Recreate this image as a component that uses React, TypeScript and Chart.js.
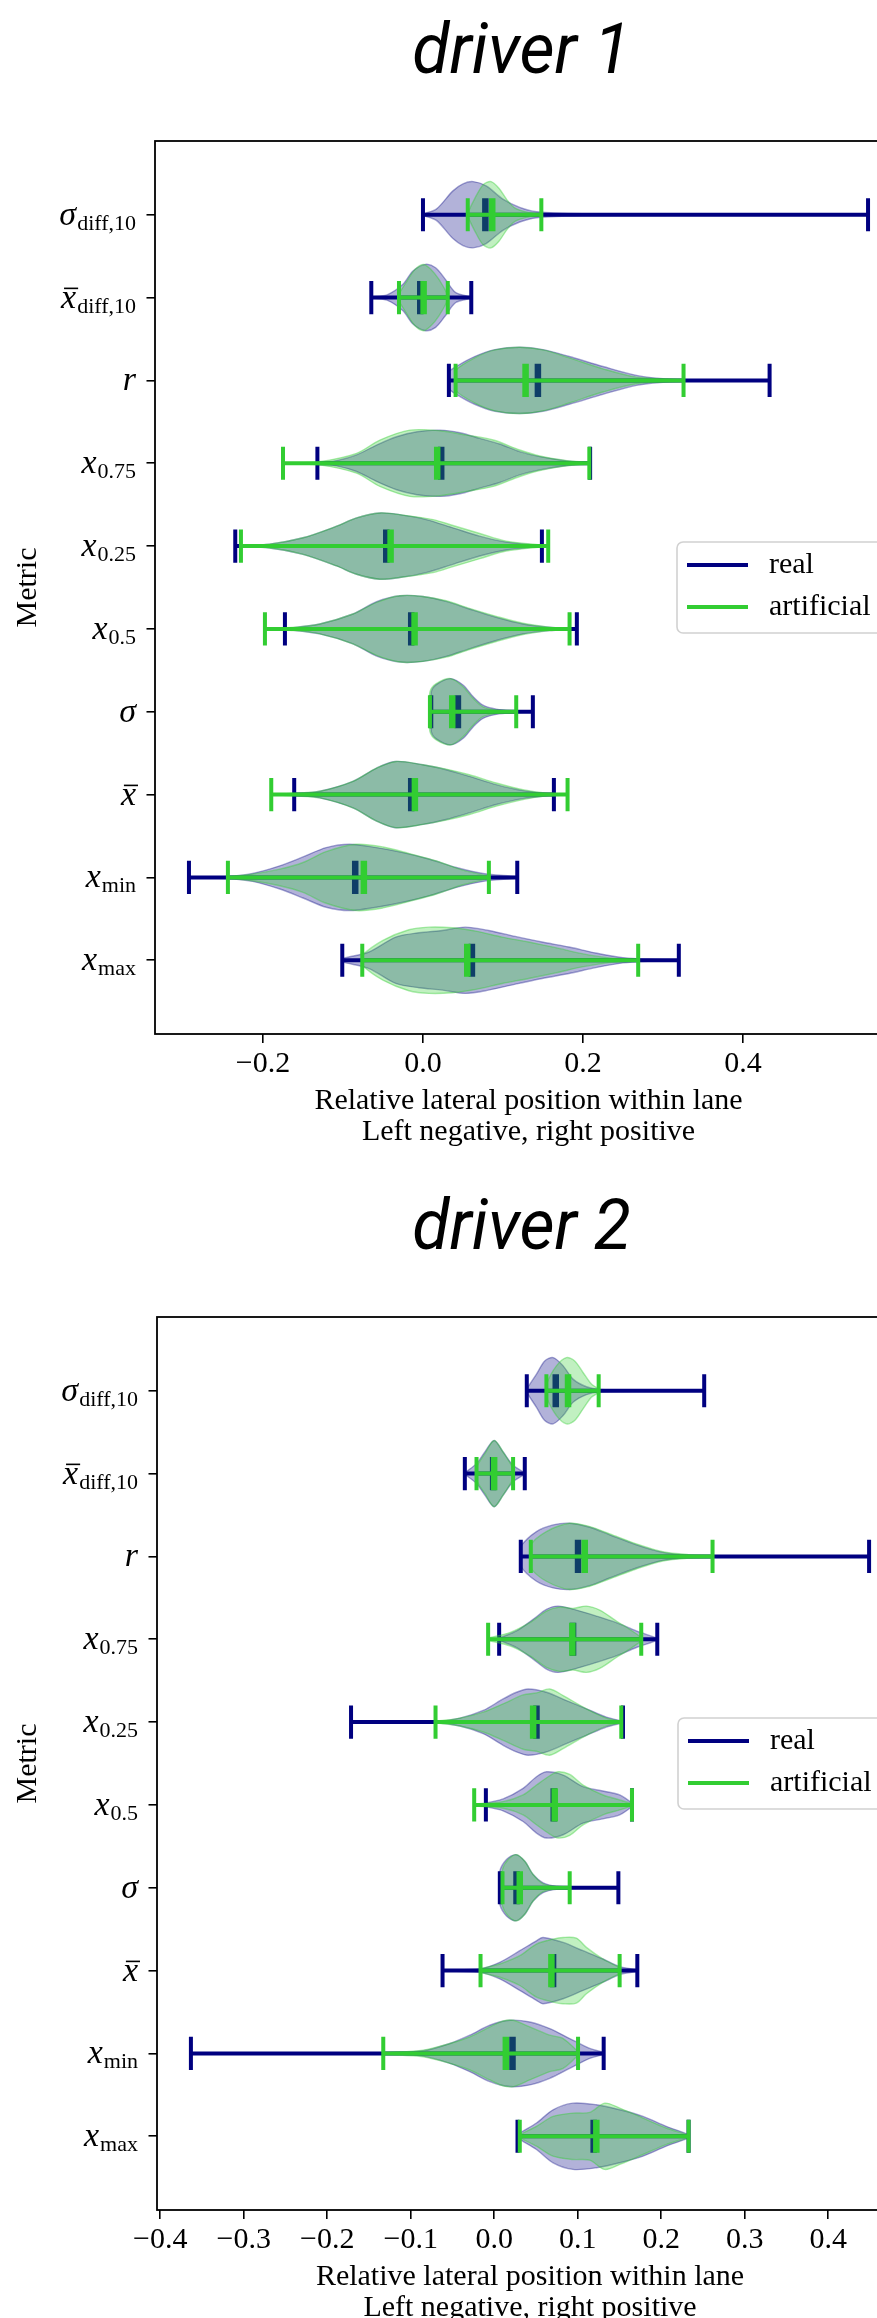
import { useEffect, useRef } from 'react';
import { Chart, registerables } from 'chart.js';

Chart.register(...registerables);

// ---------- shared categories / series ----------
const METRIC_MAIN = ['σ', 'x', 'r', 'x', 'x', 'x', 'σ', 'x', 'x', 'x'];
const METRIC_SUB = ['diff,10', 'diff,10', '', '0.75', '0.25', '0.5', '', '', 'min', 'max'];
const METRIC_BAR = [false, true, false, false, false, false, false, true, false, false];
const SERIES_NAMES = ['real', 'artificial'];
const X_TITLE = ['Relative lateral position within lane', 'Left negative, right positive'];
const Y_TITLE = 'Metric';

// ---------- driver 1 ----------
const D1_TITLE = 'driver 1';
const D1_XTICKS = [-0.2, 0, 0.2, 0.4];
const D1_REAL_MIN = [0.0, -0.0646, 0.0324, -0.132, -0.2347, -0.1726, 0.0104, -0.161, -0.2926, -0.1009];
const D1_REAL_MED = [0.078, -0.0034, 0.1437, 0.0228, -0.0459, -0.0147, 0.0437, -0.0147, -0.0847, 0.0612];
const D1_REAL_MAX = [0.5565, 0.0604, 0.4334, 0.209, 0.1487, 0.1924, 0.1374, 0.1637, 0.1179, 0.3199];
const D1_ART_MIN = [0.056, -0.03, 0.0408, -0.175, -0.2276, -0.1976, 0.0087, -0.1897, -0.2439, -0.0759];
const D1_ART_MED = [0.0866, 0.0008, 0.1283, 0.0178, -0.0405, -0.0105, 0.0366, -0.0101, -0.0739, 0.0554];
const D1_ART_MAX = [0.148, 0.031, 0.3258, 0.208, 0.1566, 0.1833, 0.1166, 0.1808, 0.0824, 0.2691];
// density profiles: [position, relative width]
const D1_REAL_DENS = [
  [[0.0, 0.02], [0.0167, 0.17], [0.0375, 0.72], [0.05, 0.93], [0.0625, 1.0], [0.079, 0.87], [0.1, 0.47], [0.121, 0.22], [0.142, 0.09], [0.2, 0.03], [0.35, 0.015], [0.5565, 0.01]],
  [[-0.0646, 0.02], [-0.045, 0.08], [-0.025, 0.4], [-0.0125, 0.8], [0.003, 1.0], [0.0158, 0.9], [0.028, 0.55], [0.041, 0.15], [0.0604, 0.02]],
  [[0.0324, 0.25], [0.0437, 0.45], [0.0646, 0.72], [0.09, 0.93], [0.1213, 1.0], [0.15, 0.93], [0.183, 0.72], [0.225, 0.42], [0.267, 0.15], [0.308, 0.04], [0.36, 0.015], [0.4334, 0.01]],
  [[-0.132, 0.02], [-0.108, 0.08], [-0.083, 0.25], [-0.058, 0.55], [-0.033, 0.8], [-0.0075, 0.95], [0.0212, 1.0], [0.0462, 0.92], [0.071, 0.75], [0.096, 0.58], [0.121, 0.35], [0.146, 0.2], [0.18, 0.07], [0.209, 0.01]],
  [[-0.2347, 0.01], [-0.192, 0.06], [-0.15, 0.25], [-0.108, 0.6], [-0.083, 0.85], [-0.0542, 1.0], [-0.0292, 0.95], [0.004, 0.8], [0.0375, 0.55], [0.071, 0.3], [0.104, 0.12], [0.1487, 0.01]],
  [[-0.1726, 0.01], [-0.129, 0.15], [-0.0876, 0.45], [-0.058, 0.82], [-0.029, 1.0], [0.0, 0.98], [0.029, 0.83], [0.058, 0.6], [0.0916, 0.35], [0.125, 0.15], [0.158, 0.05], [0.1924, 0.01]],
  [[0.0104, 0.6], [0.0167, 0.82], [0.0346, 1.0], [0.0504, 0.8], [0.0629, 0.45], [0.075, 0.2], [0.0917, 0.08], [0.115, 0.03], [0.1374, 0.01]],
  [[-0.161, 0.01], [-0.129, 0.1], [-0.0876, 0.4], [-0.058, 0.8], [-0.035, 1.0], [0.0, 0.9], [0.029, 0.75], [0.058, 0.55], [0.0916, 0.3], [0.125, 0.12], [0.1637, 0.01]],
  [[-0.2926, 0.01], [-0.244, 0.03], [-0.213, 0.12], [-0.179, 0.35], [-0.15, 0.62], [-0.121, 0.9], [-0.0917, 1.0], [-0.058, 0.9], [-0.025, 0.75], [0.0083, 0.55], [0.0417, 0.3], [0.075, 0.12], [0.1179, 0.02]],
  [[-0.1009, 0.05], [-0.0675, 0.25], [-0.034, 0.7], [-0.005, 0.83], [0.0242, 0.9], [0.0529, 1.0], [0.0821, 0.9], [0.1154, 0.72], [0.149, 0.55], [0.1825, 0.4], [0.216, 0.22], [0.25, 0.08], [0.283, 0.03], [0.3199, 0.01]],
];
const D1_ART_DENS = [
  [[0.056, 0.05], [0.065, 0.5], [0.075, 0.9], [0.085, 1.0], [0.095, 0.8], [0.105, 0.45], [0.115, 0.2], [0.13, 0.08], [0.148, 0.02]],
  [[-0.03, 0.1], [-0.02, 0.5], [-0.01, 0.85], [0.0008, 1.0], [0.01, 0.85], [0.02, 0.55], [0.031, 0.08]],
  [[0.0408, 0.3], [0.0646, 0.68], [0.09, 0.92], [0.12, 1.0], [0.15, 0.92], [0.183, 0.68], [0.225, 0.35], [0.267, 0.1], [0.3258, 0.02]],
  [[-0.175, 0.01], [-0.13, 0.05], [-0.083, 0.3], [-0.0538, 0.7], [-0.0162, 1.0], [0.0212, 0.98], [0.0546, 0.85], [0.0879, 0.7], [0.121, 0.4], [0.146, 0.22], [0.18, 0.08], [0.208, 0.02]],
  [[-0.2276, 0.01], [-0.192, 0.06], [-0.15, 0.25], [-0.108, 0.6], [-0.083, 0.85], [-0.0542, 1.0], [-0.0292, 0.95], [0.0125, 0.8], [0.0375, 0.62], [0.071, 0.38], [0.104, 0.15], [0.1566, 0.01]],
  [[-0.1976, 0.01], [-0.16, 0.05], [-0.129, 0.15], [-0.0876, 0.45], [-0.058, 0.8], [-0.029, 1.0], [0.0, 0.98], [0.029, 0.85], [0.058, 0.62], [0.0916, 0.38], [0.125, 0.17], [0.158, 0.05], [0.1833, 0.01]],
  [[0.0087, 0.6], [0.0167, 0.85], [0.0346, 1.0], [0.0504, 0.75], [0.0629, 0.4], [0.075, 0.15], [0.0917, 0.05], [0.1166, 0.01]],
  [[-0.1897, 0.01], [-0.16, 0.04], [-0.129, 0.1], [-0.0876, 0.4], [-0.058, 0.8], [-0.033, 1.0], [0.0, 0.9], [0.029, 0.77], [0.058, 0.6], [0.0916, 0.35], [0.125, 0.15], [0.155, 0.04], [0.1808, 0.01]],
  [[-0.2439, 0.02], [-0.213, 0.1], [-0.179, 0.25], [-0.15, 0.45], [-0.121, 0.78], [-0.0834, 1.0], [-0.05, 0.92], [-0.017, 0.72], [0.0167, 0.5], [0.05, 0.22], [0.0824, 0.03]],
  [[-0.0759, 0.15], [-0.05, 0.6], [-0.0175, 0.92], [0.0075, 1.0], [0.0367, 0.98], [0.0658, 0.88], [0.099, 0.7], [0.132, 0.55], [0.166, 0.38], [0.199, 0.2], [0.233, 0.07], [0.2691, 0.01]],
];

// ---------- driver 2 ----------
const D2_TITLE = 'driver 2';
const D2_XTICKS = [-0.4, -0.3, -0.2, -0.1, 0, 0.1, 0.2, 0.3, 0.4];
const D2_REAL_MIN = [0.039, -0.0352, 0.0318, 0.0059, -0.1715, -0.01, 0.0067, -0.0619, -0.3633, 0.0279];
const D2_REAL_MED = [0.0737, -0.0013, 0.1004, 0.0944, 0.0506, 0.0713, 0.0267, 0.0705, 0.0219, 0.1191];
const D2_REAL_MAX = [0.2515, 0.0366, 0.449, 0.1953, 0.1542, 0.165, 0.1487, 0.1714, 0.1311, 0.2328];
const D2_ART_MIN = [0.0625, -0.0212, 0.0438, -0.0073, -0.0703, -0.024, 0.0099, -0.0164, -0.1329, 0.0306];
const D2_ART_MED = [0.0884, -0.0001, 0.1084, 0.0936, 0.0466, 0.0725, 0.0306, 0.0685, 0.0139, 0.1223];
const D2_ART_MAX = [0.1251, 0.0226, 0.2615, 0.1761, 0.1522, 0.165, 0.0904, 0.1502, 0.1004, 0.2328];
const D2_REAL_DENS = [
  [[0.039, 0.05], [0.0506, 0.5], [0.0605, 0.9], [0.0705, 1.0], [0.0825, 0.75], [0.0944, 0.35], [0.1104, 0.12], [0.1263, 0.04], [0.18, 0.015], [0.2515, 0.01]],
  [[-0.0352, 0.02], [-0.0212, 0.3], [-0.0112, 0.65], [-0.0001, 1.0], [0.0107, 0.65], [0.0226, 0.25], [0.0366, 0.02]],
  [[0.0318, 0.3], [0.0506, 0.75], [0.0705, 0.95], [0.0904, 1.0], [0.1144, 0.88], [0.1383, 0.65], [0.1702, 0.35], [0.202, 0.12], [0.234, 0.04], [0.33, 0.015], [0.449, 0.01]],
  [[0.0059, 0.03], [0.0267, 0.25], [0.0466, 0.6], [0.0625, 0.9], [0.0765, 1.0], [0.0984, 0.88], [0.1223, 0.7], [0.1463, 0.5], [0.1702, 0.25], [0.1953, 0.03]],
  [[-0.1715, 0.01], [-0.07, 0.02], [-0.0411, 0.12], [-0.0132, 0.35], [0.0107, 0.7], [0.0267, 0.9], [0.0406, 1.0], [0.0625, 0.9], [0.0865, 0.65], [0.1104, 0.4], [0.1343, 0.15], [0.1542, 0.02]],
  [[-0.01, 0.05], [0.0107, 0.18], [0.0346, 0.5], [0.0506, 0.85], [0.0625, 1.0], [0.0825, 0.9], [0.1064, 0.55], [0.1303, 0.42], [0.1503, 0.3], [0.165, 0.05]],
  [[0.0067, 0.5], [0.0147, 0.85], [0.0258, 1.0], [0.0366, 0.8], [0.0466, 0.4], [0.0585, 0.15], [0.0745, 0.05], [0.1, 0.02], [0.1487, 0.01]],
  [[-0.0619, 0.01], [-0.0164, 0.06], [0.0067, 0.25], [0.0306, 0.6], [0.0506, 0.9], [0.0585, 1.0], [0.0825, 0.85], [0.1064, 0.6], [0.1303, 0.35], [0.1503, 0.12], [0.1714, 0.02]],
  [[-0.3633, 0.01], [-0.2286, 0.01], [-0.1329, 0.02], [-0.085, 0.08], [-0.0531, 0.3], [-0.0292, 0.55], [-0.0053, 0.85], [0.0187, 1.0], [0.0426, 0.95], [0.0665, 0.75], [0.0904, 0.45], [0.1144, 0.15], [0.1311, 0.03]],
  [[0.0279, 0.05], [0.0506, 0.4], [0.0705, 0.8], [0.0944, 1.0], [0.1224, 0.95], [0.1503, 0.8], [0.1782, 0.6], [0.206, 0.3], [0.2328, 0.05]],
];
const D2_ART_DENS = [
  [[0.0625, 0.2], [0.0745, 0.75], [0.0865, 1.0], [0.0964, 0.9], [0.1064, 0.55], [0.1164, 0.2], [0.1251, 0.05]],
  [[-0.0212, 0.2], [-0.0112, 0.6], [-0.0001, 1.0], [0.0107, 0.65], [0.0226, 0.15]],
  [[0.0438, 0.35], [0.0625, 0.75], [0.0904, 1.0], [0.1144, 0.9], [0.1383, 0.68], [0.1702, 0.38], [0.202, 0.14], [0.234, 0.05], [0.2615, 0.02]],
  [[-0.0073, 0.03], [0.0187, 0.2], [0.0426, 0.5], [0.0625, 0.85], [0.0785, 0.97], [0.0944, 0.93], [0.1104, 1.0], [0.1263, 0.88], [0.1463, 0.55], [0.1622, 0.3], [0.1761, 0.05]],
  [[-0.0703, 0.02], [-0.0411, 0.12], [-0.0132, 0.3], [0.0107, 0.55], [0.0346, 0.82], [0.0506, 0.88], [0.0665, 1.0], [0.0825, 0.8], [0.1104, 0.4], [0.1343, 0.12], [0.1522, 0.02]],
  [[-0.024, 0.03], [0.0107, 0.1], [0.0346, 0.3], [0.0506, 0.6], [0.0665, 0.88], [0.0765, 1.0], [0.0904, 0.92], [0.1064, 0.6], [0.1303, 0.3], [0.1503, 0.15], [0.165, 0.03]],
  [[0.0099, 0.55], [0.0167, 0.85], [0.0267, 1.0], [0.0366, 0.8], [0.0466, 0.4], [0.0585, 0.12], [0.0745, 0.03], [0.0904, 0.01]],
  [[-0.0164, 0.05], [0.0067, 0.2], [0.0306, 0.45], [0.0506, 0.8], [0.0705, 0.95], [0.0825, 1.0], [0.0984, 0.98], [0.1104, 0.7], [0.1303, 0.35], [0.1502, 0.08]],
  [[-0.1329, 0.02], [-0.085, 0.1], [-0.0531, 0.3], [-0.0292, 0.5], [-0.0053, 0.8], [0.0107, 0.98], [0.0226, 1.0], [0.0426, 0.8], [0.0665, 0.55], [0.0825, 0.45], [0.1004, 0.05]],
  [[0.0306, 0.04], [0.0506, 0.3], [0.0705, 0.6], [0.0944, 0.7], [0.1144, 0.72], [0.1323, 1.0], [0.1503, 0.85], [0.1782, 0.55], [0.206, 0.25], [0.2328, 0.03]],
];

// ---------- styles / layout ----------
const SERIF = '"Liberation Serif", "Times New Roman", serif';
const SERIES_COLORS = ['#000080', '#32cd32'];
const SERIES_FILL = ['rgba(0,0,128,0.3)', 'rgba(50,205,50,0.3)'];
const SERIES_EDGE = ['rgba(0,0,128,0.35)', 'rgba(50,205,50,0.4)'];
const HALF = 0.4; // half violin width (widths = 0.8)
const CAP = 0.2; // half length of extrema / median lines
const CANVAS_W = 1043;
const CANVAS_H = 1160;
const PLOT_TOP = 141;
const X_AXIS_H = 126;
const Y_TICK_LEN = 8.5;
const Y_LABEL_PAD = 10.5;

type Dens = number[][];
type Driver = {
  title: string;
  xTicks: number[];
  mins: number[][];
  meds: number[][];
  maxs: number[][];
  dens: Dens[][];
};
type Layout = { top: number; left: number; rightPad: number };

const DRIVER1: Driver = {
  title: D1_TITLE,
  xTicks: D1_XTICKS,
  mins: [D1_REAL_MIN, D1_ART_MIN],
  meds: [D1_REAL_MED, D1_ART_MED],
  maxs: [D1_REAL_MAX, D1_ART_MAX],
  dens: [D1_REAL_DENS, D1_ART_DENS],
};
const DRIVER2: Driver = {
  title: D2_TITLE,
  xTicks: D2_XTICKS,
  mins: [D2_REAL_MIN, D2_ART_MIN],
  meds: [D2_REAL_MED, D2_ART_MED],
  maxs: [D2_REAL_MAX, D2_ART_MAX],
  dens: [D2_REAL_DENS, D2_ART_DENS],
};
const LAYOUT1: Layout = { top: 0, left: 155, rightPad: 141 };
const LAYOUT2: Layout = { top: 1176, left: 157, rightPad: 140 };

function violinOutline(dens: Dens, row: number) {
  const first = dens[0];
  const last = dens[dens.length - 1];
  const up = dens.map(([x, w]) => ({ x, y: row - w * HALF }));
  const down = dens
    .slice()
    .reverse()
    .map(([x, w]) => ({ x, y: row + w * HALF }));
  return [{ x: first[0], y: row }, ...up, { x: last[0], y: row }, ...down, { x: first[0], y: row }];
}

function perpSegments(xs: number[], half: number) {
  const out: any[] = [];
  xs.forEach((x, i) => {
    out.push({ x, y: i - half }, { x, y: i + half }, { x: null, y: null });
  });
  return out;
}

function barSegments(mins: number[], maxs: number[]) {
  const out: any[] = [];
  mins.forEach((m, i) => {
    out.push({ x: m, y: i }, { x: maxs[i], y: i }, { x: null, y: null });
  });
  return out;
}

function fmtTick(v: number) {
  const s = Math.abs(v).toFixed(1);
  return v < -1e-9 ? '\u2212' + s : s;
}

const decorPlugin = {
  id: 'decor',
  afterDraw(chart: any, _args: any, opts: any) {
    const { ctx, chartArea: a } = chart;
    const ys = chart.scales.y;
    ctx.save();

    // frame
    ctx.strokeStyle = '#000';
    ctx.lineWidth = 1.8;
    ctx.strokeRect(a.left, a.top, a.right - a.left, a.bottom - a.top);

    // y tick labels (math-style)
    ctx.fillStyle = '#000';
    ctx.textAlign = 'left';
    ctx.textBaseline = 'alphabetic';
    const rx = a.left - Y_TICK_LEN - Y_LABEL_PAD;
    METRIC_MAIN.forEach((m, i) => {
      const y = ys.getPixelForValue(i);
      const sub = METRIC_SUB[i];
      ctx.font = '22px ' + SERIF;
      const sw = sub ? ctx.measureText(sub).width : 0;
      if (sub) ctx.fillText(sub, rx - sw, y + 15);
      ctx.font = 'italic 34px ' + SERIF;
      const mw = ctx.measureText(m).width;
      const mx = rx - sw - mw - (sub ? 1 : 0);
      ctx.fillText(m, mx, y + 10);
      if (METRIC_BAR[i]) {
        ctx.fillRect(mx + 3, y + 10 - 20, mw - 1, 1.6);
      }
    });

    // legend (center right)
    const bx = a.right - 225;
    const bw = 218;
    const bh = 91;
    const by = (a.top + a.bottom) / 2 - bh / 2;
    ctx.beginPath();
    if (ctx.roundRect) ctx.roundRect(bx, by, bw, bh, 6);
    else ctx.rect(bx, by, bw, bh);
    ctx.fillStyle = 'rgba(255,255,255,0.8)';
    ctx.fill();
    ctx.strokeStyle = 'rgba(204,204,204,0.9)';
    ctx.lineWidth = 1.6;
    ctx.stroke();
    SERIES_NAMES.forEach((name, s) => {
      const ly = by + 23 + s * 42;
      ctx.strokeStyle = SERIES_COLORS[s];
      ctx.lineWidth = 4;
      ctx.beginPath();
      ctx.moveTo(bx + 10, ly);
      ctx.lineTo(bx + 71, ly);
      ctx.stroke();
      ctx.fillStyle = '#000';
      ctx.font = '30px ' + SERIF;
      ctx.textBaseline = 'middle';
      ctx.fillText(name, bx + 92, ly);
    });

    // figure title
    ctx.fillStyle = '#000';
    ctx.textAlign = 'center';
    ctx.textBaseline = 'alphabetic';
    ctx.font = 'italic 71px Roboto, "Noto Sans", sans-serif';
    ctx.translate(chart.width / 2, 73);
    ctx.scale(0.96, 1);
    ctx.fillText(opts.title, 0, 0);

    ctx.restore();
  },
};

function makeConfig(d: Driver, lay: Layout): any {
  const allMin = Math.min(...d.mins[0], ...d.mins[1]);
  const allMax = Math.max(...d.maxs[0], ...d.maxs[1]);
  const xPad = (allMax - allMin) * 0.05;
  const rows = METRIC_MAIN.length;
  const yExtLo = -HALF;
  const yExtHi = rows - 1 + HALF;
  const yPad = (yExtHi - yExtLo) * 0.05;

  const datasets: any[] = [];
  [0, 1].forEach((s) => {
    const base = 100 - s * 20;
    d.dens[s].forEach((dens, i) => {
      datasets.push({
        data: violinOutline(dens, i),
        showLine: true,
        fill: 'shape',
        backgroundColor: SERIES_FILL[s],
        borderColor: SERIES_EDGE[s],
        borderWidth: 1.4,
        pointRadius: 0,
        tension: 0.3,
        order: base,
      });
    });
    const lineStyle = (w: number, ord: number) => ({
      showLine: true,
      borderColor: SERIES_COLORS[s],
      backgroundColor: SERIES_COLORS[s],
      borderWidth: w,
      pointRadius: 0,
      tension: 0,
      fill: false,
      spanGaps: false,
      order: ord,
    });
    datasets.push({ data: perpSegments(d.maxs[s], CAP), ...lineStyle(4, base - 5) });
    datasets.push({ data: perpSegments(d.mins[s], CAP), ...lineStyle(4, base - 6) });
    datasets.push({ data: barSegments(d.mins[s], d.maxs[s]), ...lineStyle(4, base - 7) });
    datasets.push({ data: perpSegments(d.meds[s], CAP), ...lineStyle(6.5, base - 8) });
  });

  return {
    type: 'scatter',
    data: { datasets },
    plugins: [decorPlugin],
    options: {
      responsive: false,
      maintainAspectRatio: false,
      devicePixelRatio: 1,
      animation: false,
      events: [],
      layout: { padding: { top: PLOT_TOP, left: 0, right: lay.rightPad, bottom: 0 } },
      plugins: {
        legend: { display: false },
        tooltip: { enabled: false },
        title: { display: false },
        decor: { title: d.title },
      },
      scales: {
        x: {
          type: 'linear',
          min: allMin - xPad,
          max: allMax + xPad,
          bounds: 'data',
          afterBuildTicks: (sc: any) => {
            sc.ticks = d.xTicks.map((v) => ({ value: v }));
          },
          afterFit: (sc: any) => {
            sc.height = X_AXIS_H;
          },
          ticks: {
            callback: (v: number) => fmtTick(v),
            font: { family: SERIF, size: 30 },
            color: '#000',
            padding: 3,
            maxRotation: 0,
            autoSkip: false,
          },
          grid: {
            display: true,
            drawOnChartArea: false,
            drawTicks: true,
            tickLength: 9,
            color: '#000',
            lineWidth: 1.6,
          },
          border: { display: false },
          title: {
            display: true,
            text: X_TITLE,
            font: { family: SERIF, size: 30, lineHeight: 1.033 },
            color: '#000',
            padding: { top: 0, bottom: 12.5 },
          },
        },
        y: {
          type: 'linear',
          reverse: true,
          min: yExtLo - yPad,
          max: yExtHi + yPad,
          bounds: 'data',
          afterBuildTicks: (sc: any) => {
            sc.ticks = METRIC_MAIN.map((_, i) => ({ value: i }));
          },
          afterFit: (sc: any) => {
            sc.width = lay.left;
          },
          ticks: { display: false },
          grid: {
            display: true,
            drawOnChartArea: false,
            drawTicks: true,
            tickLength: Y_TICK_LEN,
            color: '#000',
            lineWidth: 1.6,
          },
          border: { display: false },
          title: {
            display: true,
            text: Y_TITLE,
            font: { family: SERIF, size: 30 },
            color: '#000',
            padding: { top: 10, bottom: 0 },
          },
        },
      },
    },
  };
}

function DriverChart({ driver, layout }: { driver: Driver; layout: Layout }) {
  const ref = useRef<HTMLCanvasElement | null>(null);
  useEffect(() => {
    if (!ref.current) return;
    const chart = new Chart(ref.current, makeConfig(driver, layout));
    return () => chart.destroy();
  }, [driver, layout]);
  return (
    <canvas
      ref={ref}
      width={CANVAS_W}
      height={CANVAS_H}
      style={{ position: 'absolute', left: 0, top: layout.top, width: CANVAS_W, height: CANVAS_H, display: 'block' }}
    />
  );
}

export default function App() {
  return (
    <div
      style={{
        position: 'absolute',
        left: 0,
        top: 0,
        width: 877,
        height: 2318,
        overflow: 'hidden',
        background: '#fff',
      }}
    >
      <DriverChart driver={DRIVER1} layout={LAYOUT1} />
      <DriverChart driver={DRIVER2} layout={LAYOUT2} />
    </div>
  );
}
